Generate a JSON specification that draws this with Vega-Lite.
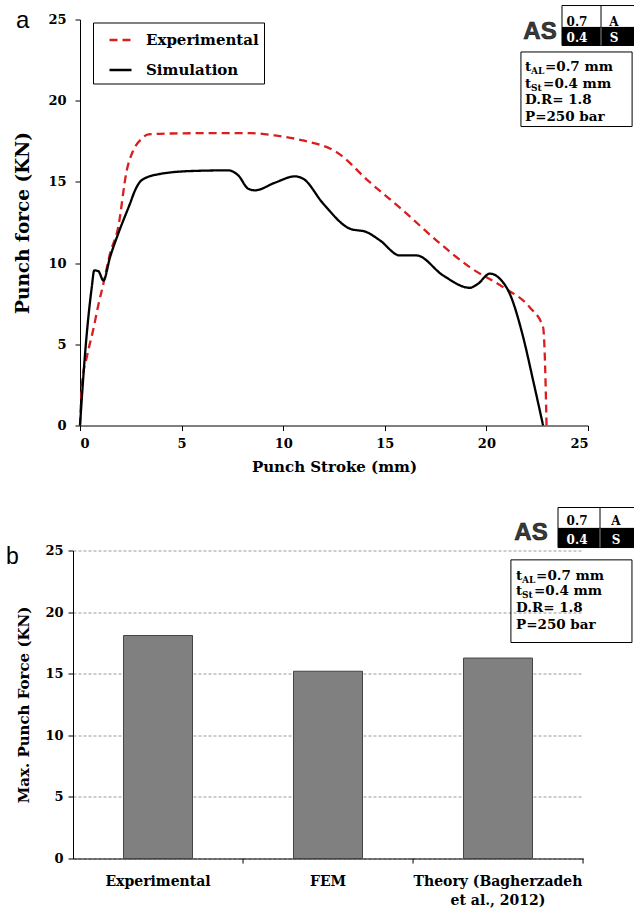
{
  "$schema": "https://vega.github.io/schema/vega-lite/v6.json",
  "padding": {"left": 6, "top": 4.5, "right": 0, "bottom": 0},
  "bounds": "flush",
  "spacing": 125,
  "config": {
    "view": {"stroke": null},
    "axis": {"labelFont": "DejaVu Serif", "labelFontWeight": "bold", "labelColor": "#000", "titleFont": "DejaVu Serif", "titleFontWeight": "bold", "titleColor": "#000", "domainColor": "#000", "tickColor": "#000", "tickSize": 5, "grid": false},
    "text": {"font": "DejaVu Serif", "fontWeight": "bold", "color": "#000"}
  },
  "datasets": {
    "curves": [
      {"series": "Experimental", "stroke": 0, "force": 0},
      {"series": "Experimental", "stroke": 0.1, "force": 2.6},
      {"series": "Experimental", "stroke": 0.35, "force": 4.3},
      {"series": "Experimental", "stroke": 0.65, "force": 5.9},
      {"series": "Experimental", "stroke": 0.9, "force": 7.4},
      {"series": "Experimental", "stroke": 1.15, "force": 8.73},
      {"series": "Experimental", "stroke": 1.48, "force": 10.59},
      {"series": "Experimental", "stroke": 1.88, "force": 12.21},
      {"series": "Experimental", "stroke": 2.3, "force": 15.7},
      {"series": "Experimental", "stroke": 2.62, "force": 16.93},
      {"series": "Experimental", "stroke": 3.03, "force": 17.65},
      {"series": "Experimental", "stroke": 3.36, "force": 17.92},
      {"series": "Experimental", "stroke": 4.5, "force": 17.98},
      {"series": "Experimental", "stroke": 6.3, "force": 18.0},
      {"series": "Experimental", "stroke": 8.45, "force": 18.0},
      {"series": "Experimental", "stroke": 9.59, "force": 17.86},
      {"series": "Experimental", "stroke": 10.98, "force": 17.55},
      {"series": "Experimental", "stroke": 12.63, "force": 16.83},
      {"series": "Experimental", "stroke": 14.26, "force": 14.98},
      {"series": "Experimental", "stroke": 15.9, "force": 13.24},
      {"series": "Experimental", "stroke": 17.55, "force": 11.39},
      {"series": "Experimental", "stroke": 19.18, "force": 9.75},
      {"series": "Experimental", "stroke": 20.82, "force": 8.52},
      {"series": "Experimental", "stroke": 22.13, "force": 7.28},
      {"series": "Experimental", "stroke": 22.79, "force": 6.05},
      {"series": "Experimental", "stroke": 22.87, "force": 4.43},
      {"series": "Experimental", "stroke": 22.96, "force": 0},
      {"series": "Simulation", "stroke": 0, "force": 0},
      {"series": "Simulation", "stroke": 0.25, "force": 4.43},
      {"series": "Simulation", "stroke": 0.58, "force": 8.52},
      {"series": "Simulation", "stroke": 0.7, "force": 9.55},
      {"series": "Simulation", "stroke": 0.9, "force": 9.51},
      {"series": "Simulation", "stroke": 1.15, "force": 8.93},
      {"series": "Simulation", "stroke": 1.48, "force": 10.37},
      {"series": "Simulation", "stroke": 1.88, "force": 11.81},
      {"series": "Simulation", "stroke": 2.46, "force": 13.66},
      {"series": "Simulation", "stroke": 2.71, "force": 14.48},
      {"series": "Simulation", "stroke": 3.03, "force": 15.1},
      {"series": "Simulation", "stroke": 3.85, "force": 15.47},
      {"series": "Simulation", "stroke": 5.49, "force": 15.67},
      {"series": "Simulation", "stroke": 7.29, "force": 15.71},
      {"series": "Simulation", "stroke": 7.79, "force": 15.4},
      {"series": "Simulation", "stroke": 8.28, "force": 14.58},
      {"series": "Simulation", "stroke": 8.61, "force": 14.48},
      {"series": "Simulation", "stroke": 9.59, "force": 14.95},
      {"series": "Simulation", "stroke": 10.58, "force": 15.34},
      {"series": "Simulation", "stroke": 10.98, "force": 15.2},
      {"series": "Simulation", "stroke": 11.97, "force": 13.66},
      {"series": "Simulation", "stroke": 13.28, "force": 12.12},
      {"series": "Simulation", "stroke": 14.1, "force": 11.91},
      {"series": "Simulation", "stroke": 14.76, "force": 11.4},
      {"series": "Simulation", "stroke": 15.74, "force": 10.47},
      {"series": "Simulation", "stroke": 16.56, "force": 10.47},
      {"series": "Simulation", "stroke": 17.87, "force": 9.24},
      {"series": "Simulation", "stroke": 19.18, "force": 8.48},
      {"series": "Simulation", "stroke": 19.59, "force": 8.73},
      {"series": "Simulation", "stroke": 20.17, "force": 9.35},
      {"series": "Simulation", "stroke": 20.66, "force": 9.04},
      {"series": "Simulation", "stroke": 21.15, "force": 8.11},
      {"series": "Simulation", "stroke": 21.81, "force": 5.44},
      {"series": "Simulation", "stroke": 22.3, "force": 2.77},
      {"series": "Simulation", "stroke": 22.79, "force": 0}
    ],
    "bars": [
      {"method": "Experimental", "force": 18.1},
      {"method": "FEM", "force": 15.2},
      {"method": "Theory (Bagherzadeh et al., 2012)", "force": 16.27}
    ],
    "topPanel": [{"x": -3.15, "y": 24.45, "t": "a"}],
    "topAS": [{"x": 22.64, "y": 23.83, "t": "AS"}],
    "topTableWhite": [{"x1": 23.72, "x2": 27.56, "y1": 24.51, "y2": 25.86}],
    "topTableBlack": [{"x1": 23.72, "x2": 27.56, "y1": 23.4, "y2": 24.51}],
    "topDivider": [{"x": 25.64, "y1": 24.51, "y2": 25.86, "part": "w"}, {"x": 25.64, "y1": 23.4, "y2": 24.51, "part": "b"}],
    "topTableTextDark": [{"x": 24.46, "y": 24.63, "t": "0.7"}, {"x": 26.28, "y": 24.63, "t": "A"}],
    "topTableTextLight": [{"x": 24.46, "y": 23.6, "t": "0.4"}, {"x": 26.28, "y": 23.6, "t": "S"}],
    "topBox": [{"x1": 21.7, "x2": 27.17, "y1": 18.41, "y2": 23.0}],
    "topBoxText": [
      {"x": 21.9, "y": 21.82, "t": "t"}, {"x": 22.88, "y": 21.82, "t": "=0.7 mm"},
      {"x": 21.9, "y": 20.79, "t": "t"}, {"x": 22.79, "y": 20.79, "t": "=0.4 mm"},
      {"x": 21.9, "y": 19.77, "t": "D.R= 1.8"}, {"x": 21.9, "y": 18.78, "t": "P=250 bar"}
    ],
    "topBoxSub": [{"x": 22.19, "y": 21.65, "t": "AL"}, {"x": 22.19, "y": 20.62, "t": "St"}],
    "botPanel": [{"x": -0.394, "y": 23.94, "t": "b"}],
    "botAS": [{"x": 2.694, "y": 25.89, "t": "AS"}],
    "botTableWhite": [{"x1": 2.853, "x2": 3.335, "y1": 26.79, "y2": 28.49}],
    "botTableBlack": [{"x1": 2.853, "x2": 3.335, "y1": 25.24, "y2": 26.79}],
    "botDivider": [{"x": 3.1, "y1": 26.79, "y2": 28.49, "part": "w"}, {"x": 3.1, "y1": 25.24, "y2": 26.79, "part": "b"}],
    "botTableTextDark": [{"x": 2.965, "y": 27.11, "t": "0.7"}, {"x": 3.194, "y": 27.11, "t": "A"}],
    "botTableTextLight": [{"x": 2.965, "y": 25.54, "t": "0.4"}, {"x": 3.194, "y": 25.54, "t": "S"}],
    "botBox": [{"x1": 2.576, "x2": 3.288, "y1": 17.53, "y2": 24.24}],
    "botBoxText": [
      {"x": 2.606, "y": 22.62, "t": "t"}, {"x": 2.724, "y": 22.62, "t": "=0.7 mm"},
      {"x": 2.606, "y": 21.35, "t": "t"}, {"x": 2.712, "y": 21.35, "t": "=0.4 mm"},
      {"x": 2.606, "y": 19.99, "t": "D.R= 1.8"}, {"x": 2.606, "y": 18.64, "t": "P=250 bar"}
    ],
    "botBoxSub": [{"x": 2.641, "y": 22.38, "t": "AL"}, {"x": 2.641, "y": 21.11, "t": "St"}]
  },
  "vconcat": [
    {
      "width": 515,
      "height": 406,
      "layer": [
        {
          "data": {"name": "curves"},
          "mark": {"type": "line", "interpolate": "monotone", "strokeWidth": 2.3},
          "encoding": {
            "x": {"field": "stroke", "type": "quantitative", "scale": {"domain": [0, 25], "range": [7, 515], "nice": false},
              "axis": {"values": [0, 5, 10, 15, 20, 25], "title": "Punch Stroke (mm)", "labelFontSize": 13, "labelPadding": 7, "titleFontSize": 15, "titlePadding": 9}},
            "y": {"field": "force", "type": "quantitative", "scale": {"domain": [0, 25], "nice": false},
              "axis": {"values": [0, 5, 10, 15, 20, 25], "offset": -7, "title": "Punch force (KN)", "labelFontSize": 13, "labelPadding": 9, "titleFontSize": 18.5, "titlePadding": 15}},
            "color": {"field": "series", "type": "nominal", "scale": {"domain": ["Experimental", "Simulation"], "range": ["#d81e1e", "#000000"]},
              "legend": {"title": null, "orient": "none", "legendX": 20, "legendY": 3, "padding": 5, "fillColor": "#fff", "strokeColor": "#000", "symbolType": "stroke", "symbolSize": 484, "symbolStrokeWidth": 2.5, "symbolOffset": 10, "labelOffset": 13, "rowPadding": 9, "labelFont": "DejaVu Serif", "labelFontWeight": "bold", "labelFontSize": 15, "labelColor": "#000"}},
            "strokeDash": {"field": "series", "type": "nominal", "scale": {"domain": ["Experimental", "Simulation"], "range": [[8, 5], [1, 0]]},
              "legend": {"title": null, "orient": "none", "legendX": 20, "legendY": 3, "padding": 5, "fillColor": "#fff", "strokeColor": "#000", "symbolType": "stroke", "symbolSize": 484, "symbolStrokeWidth": 2.5, "symbolOffset": 10, "labelOffset": 13, "rowPadding": 9, "labelFont": "DejaVu Serif", "labelFontWeight": "bold", "labelFontSize": 15, "labelColor": "#000"}}
          }
        },
        {
          "data": {"name": "topPanel"},
          "mark": {"type": "text", "font": "Liberation Sans", "fontWeight": "normal", "fontSize": 24, "align": "left", "baseline": "alphabetic"},
          "encoding": {
            "x": {"field": "x", "type": "quantitative", "scale": {"domain": [0, 25], "range": [7, 515], "nice": false}},
            "y": {"field": "y", "type": "quantitative", "scale": {"domain": [0, 25], "nice": false}},
            "text": {"field": "t"}
          }
        },
        {
          "data": {"name": "topAS"},
          "mark": {"type": "text", "font": "Liberation Sans", "fontWeight": "bold", "fontSize": 24, "align": "center", "baseline": "alphabetic", "color": "#3a3a3a", "stroke": "#111", "strokeWidth": 0.6},
          "encoding": {
            "x": {"field": "x", "type": "quantitative", "scale": {"domain": [0, 25], "range": [7, 515], "nice": false}},
            "y": {"field": "y", "type": "quantitative", "scale": {"domain": [0, 25], "nice": false}},
            "text": {"field": "t"}
          }
        },
        {
          "data": {"name": "topTableWhite"},
          "mark": {"type": "rect", "fill": "#fff", "stroke": "#000", "strokeWidth": 1},
          "encoding": {
            "x": {"field": "x1", "type": "quantitative", "scale": {"domain": [0, 25], "range": [7, 515], "nice": false}},
            "x2": {"field": "x2"},
            "y": {"field": "y1", "type": "quantitative", "scale": {"domain": [0, 25], "nice": false}},
            "y2": {"field": "y2"}
          }
        },
        {
          "data": {"name": "topTableBlack"},
          "mark": {"type": "rect", "fill": "#000", "stroke": "#000", "strokeWidth": 1},
          "encoding": {
            "x": {"field": "x1", "type": "quantitative", "scale": {"domain": [0, 25], "range": [7, 515], "nice": false}},
            "x2": {"field": "x2"},
            "y": {"field": "y1", "type": "quantitative", "scale": {"domain": [0, 25], "nice": false}},
            "y2": {"field": "y2"}
          }
        },
        {
          "data": {"name": "topDivider"},
          "mark": {"type": "rule", "strokeWidth": 1},
          "encoding": {
            "x": {"field": "x", "type": "quantitative", "scale": {"domain": [0, 25], "range": [7, 515], "nice": false}},
            "y": {"field": "y1", "type": "quantitative", "scale": {"domain": [0, 25], "nice": false}},
            "y2": {"field": "y2"},
            "stroke": {"field": "part", "type": "nominal", "scale": {"domain": ["w", "b"], "range": ["#000000", "#8a8a8a"]}, "legend": null}
          }
        },
        {
          "data": {"name": "topTableTextDark"},
          "mark": {"type": "text", "fontSize": 12, "align": "center", "baseline": "alphabetic", "color": "#000"},
          "encoding": {
            "x": {"field": "x", "type": "quantitative", "scale": {"domain": [0, 25], "range": [7, 515], "nice": false}},
            "y": {"field": "y", "type": "quantitative", "scale": {"domain": [0, 25], "nice": false}},
            "text": {"field": "t"}
          }
        },
        {
          "data": {"name": "topTableTextLight"},
          "mark": {"type": "text", "fontSize": 12, "align": "center", "baseline": "alphabetic", "color": "#fff"},
          "encoding": {
            "x": {"field": "x", "type": "quantitative", "scale": {"domain": [0, 25], "range": [7, 515], "nice": false}},
            "y": {"field": "y", "type": "quantitative", "scale": {"domain": [0, 25], "nice": false}},
            "text": {"field": "t"}
          }
        },
        {
          "data": {"name": "topBox"},
          "mark": {"type": "rect", "fill": "#fff", "stroke": "#000", "strokeWidth": 1},
          "encoding": {
            "x": {"field": "x1", "type": "quantitative", "scale": {"domain": [0, 25], "range": [7, 515], "nice": false}},
            "x2": {"field": "x2"},
            "y": {"field": "y1", "type": "quantitative", "scale": {"domain": [0, 25], "nice": false}},
            "y2": {"field": "y2"}
          }
        },
        {
          "data": {"name": "topBoxText"},
          "mark": {"type": "text", "fontSize": 13.5, "align": "left", "baseline": "alphabetic"},
          "encoding": {
            "x": {"field": "x", "type": "quantitative", "scale": {"domain": [0, 25], "range": [7, 515], "nice": false}},
            "y": {"field": "y", "type": "quantitative", "scale": {"domain": [0, 25], "nice": false}},
            "text": {"field": "t"}
          }
        },
        {
          "data": {"name": "topBoxSub"},
          "mark": {"type": "text", "fontSize": 9, "align": "left", "baseline": "alphabetic"},
          "encoding": {
            "x": {"field": "x", "type": "quantitative", "scale": {"domain": [0, 25], "range": [7, 515], "nice": false}},
            "y": {"field": "y", "type": "quantitative", "scale": {"domain": [0, 25], "nice": false}},
            "text": {"field": "t"}
          }
        }
      ]
    },
    {
      "width": 510,
      "height": 308,
      "resolve": {"scale": {"x": "independent"}, "axis": {"x": "independent"}},
      "layer": [
        {
          "data": {"name": "bars"},
          "mark": {"type": "bar", "fill": "#808080", "stroke": "#454545", "strokeWidth": 1},
          "encoding": {
            "x": {"field": "method", "type": "nominal", "sort": null, "scale": {"type": "band", "paddingInner": 0.594, "paddingOuter": 0.297},
              "axis": {"title": null, "ticks": false, "labelAngle": 0, "labelFontSize": 14, "labelPadding": 16, "labelLineHeight": 19, "labelLimit": 400,
                "labelExpr": "datum.value == 'Theory (Bagherzadeh et al., 2012)' ? ['Theory (Bagherzadeh', 'et al., 2012)'] : datum.value"}},
            "y": {"field": "force", "type": "quantitative", "scale": {"domain": [0, 25], "nice": false},
              "axis": {"values": [0, 5, 10, 15, 20, 25], "title": "Max. Punch Force (KN)", "labelFontSize": 13, "labelPadding": 5, "titleFontSize": 15, "titlePadding": 13,
                "grid": true, "gridColor": "#9a9a9a", "gridDash": [3, 2], "gridWidth": 1}}
          }
        },
        {
          "data": {"name": "bars"},
          "mark": {"type": "rule", "stroke": "#000", "strokeWidth": 1, "clip": false},
          "encoding": {
            "x": {"field": "method", "type": "nominal", "sort": null, "bandPosition": 1.732, "scale": {"type": "band", "paddingInner": 0.594, "paddingOuter": 0.297}, "axis": null},
            "y": {"datum": 0, "type": "quantitative", "scale": {"domain": [0, 25], "nice": false}},
            "y2": {"datum": -0.41}
          }
        },
        {
          "data": {"name": "botPanel"},
          "mark": {"type": "text", "font": "Liberation Sans", "fontWeight": "normal", "fontSize": 23, "align": "left", "baseline": "alphabetic"},
          "encoding": {
            "x": {"field": "x", "type": "quantitative", "scale": {"domain": [0, 3], "nice": false}, "axis": null},
            "y": {"field": "y", "type": "quantitative", "scale": {"domain": [0, 25], "nice": false}},
            "text": {"field": "t"}
          }
        },
        {
          "data": {"name": "botAS"},
          "mark": {"type": "text", "font": "Liberation Sans", "fontWeight": "bold", "fontSize": 24, "align": "center", "baseline": "alphabetic", "color": "#3a3a3a", "stroke": "#111", "strokeWidth": 0.6},
          "encoding": {
            "x": {"field": "x", "type": "quantitative", "scale": {"domain": [0, 3], "nice": false}, "axis": null},
            "y": {"field": "y", "type": "quantitative", "scale": {"domain": [0, 25], "nice": false}},
            "text": {"field": "t"}
          }
        },
        {
          "data": {"name": "botTableWhite"},
          "mark": {"type": "rect", "fill": "#fff", "stroke": "#000", "strokeWidth": 1},
          "encoding": {
            "x": {"field": "x1", "type": "quantitative", "scale": {"domain": [0, 3], "nice": false}, "axis": null},
            "x2": {"field": "x2"},
            "y": {"field": "y1", "type": "quantitative", "scale": {"domain": [0, 25], "nice": false}},
            "y2": {"field": "y2"}
          }
        },
        {
          "data": {"name": "botTableBlack"},
          "mark": {"type": "rect", "fill": "#000", "stroke": "#000", "strokeWidth": 1},
          "encoding": {
            "x": {"field": "x1", "type": "quantitative", "scale": {"domain": [0, 3], "nice": false}, "axis": null},
            "x2": {"field": "x2"},
            "y": {"field": "y1", "type": "quantitative", "scale": {"domain": [0, 25], "nice": false}},
            "y2": {"field": "y2"}
          }
        },
        {
          "data": {"name": "botDivider"},
          "mark": {"type": "rule", "strokeWidth": 1},
          "encoding": {
            "x": {"field": "x", "type": "quantitative", "scale": {"domain": [0, 3], "nice": false}, "axis": null},
            "y": {"field": "y1", "type": "quantitative", "scale": {"domain": [0, 25], "nice": false}},
            "y2": {"field": "y2"},
            "stroke": {"field": "part", "type": "nominal", "scale": {"domain": ["w", "b"], "range": ["#000000", "#8a8a8a"]}, "legend": null}
          }
        },
        {
          "data": {"name": "botTableTextDark"},
          "mark": {"type": "text", "fontSize": 12, "align": "center", "baseline": "alphabetic", "color": "#000"},
          "encoding": {
            "x": {"field": "x", "type": "quantitative", "scale": {"domain": [0, 3], "nice": false}, "axis": null},
            "y": {"field": "y", "type": "quantitative", "scale": {"domain": [0, 25], "nice": false}},
            "text": {"field": "t"}
          }
        },
        {
          "data": {"name": "botTableTextLight"},
          "mark": {"type": "text", "fontSize": 12, "align": "center", "baseline": "alphabetic", "color": "#fff"},
          "encoding": {
            "x": {"field": "x", "type": "quantitative", "scale": {"domain": [0, 3], "nice": false}, "axis": null},
            "y": {"field": "y", "type": "quantitative", "scale": {"domain": [0, 25], "nice": false}},
            "text": {"field": "t"}
          }
        },
        {
          "data": {"name": "botBox"},
          "mark": {"type": "rect", "fillOpacity": 0, "stroke": "#000", "strokeWidth": 1},
          "encoding": {
            "x": {"field": "x1", "type": "quantitative", "scale": {"domain": [0, 3], "nice": false}, "axis": null},
            "x2": {"field": "x2"},
            "y": {"field": "y1", "type": "quantitative", "scale": {"domain": [0, 25], "nice": false}},
            "y2": {"field": "y2"}
          }
        },
        {
          "data": {"name": "botBoxText"},
          "mark": {"type": "text", "fontSize": 13.5, "align": "left", "baseline": "alphabetic"},
          "encoding": {
            "x": {"field": "x", "type": "quantitative", "scale": {"domain": [0, 3], "nice": false}, "axis": null},
            "y": {"field": "y", "type": "quantitative", "scale": {"domain": [0, 25], "nice": false}},
            "text": {"field": "t"}
          }
        },
        {
          "data": {"name": "botBoxSub"},
          "mark": {"type": "text", "fontSize": 9, "align": "left", "baseline": "alphabetic"},
          "encoding": {
            "x": {"field": "x", "type": "quantitative", "scale": {"domain": [0, 3], "nice": false}, "axis": null},
            "y": {"field": "y", "type": "quantitative", "scale": {"domain": [0, 25], "nice": false}},
            "text": {"field": "t"}
          }
        }
      ]
    }
  ]
}
